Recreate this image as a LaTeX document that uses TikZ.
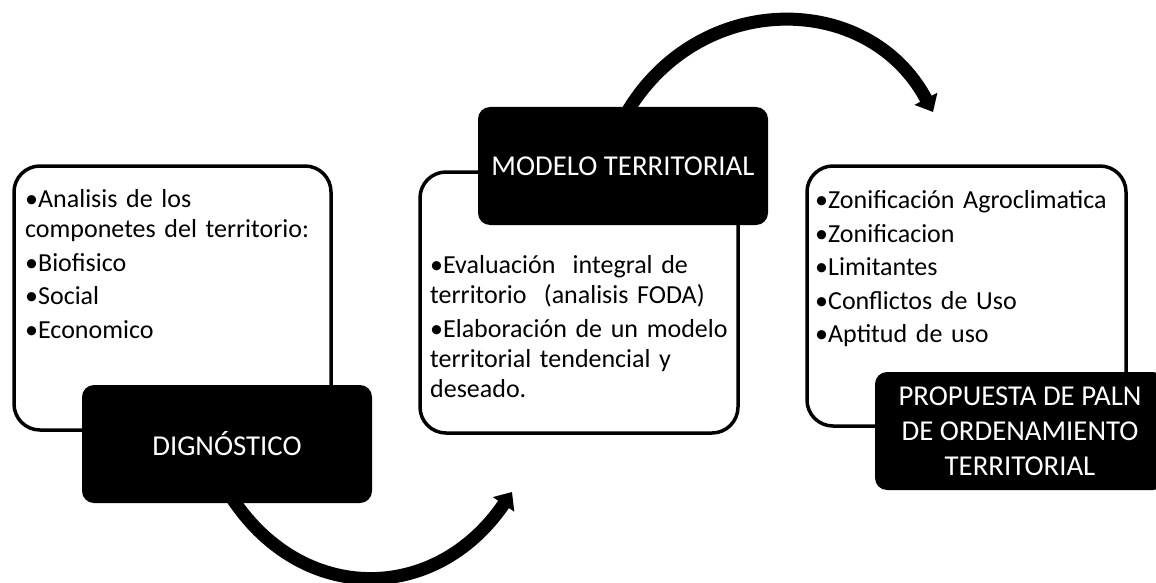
\documentclass[tikz,border=0pt]{standalone}
\usepackage{fontspec}
\setmainfont{Carlito}
\usetikzlibrary{arrows.meta}
\newlength\bulw
\newcommand\bodyfont{\fontsize{26}{30}\selectfont}
\newcommand\headfont{\fontsize{28.8}{35}\selectfont}
\newcommand\itm{\par\hangindent=\bulw\hangafter=1\noindent\makebox[\bulw][l]{•}}
\newcommand\fstrut{\rule{0pt}{24pt}}
\tikzset{
  wbox/.style={draw=black, line width=3.5pt, rounded corners=26pt, fill=white, inner sep=0pt},
  bbox/.style={fill=black, rounded corners=12pt, inner sep=0pt, minimum width=290pt,
    minimum height=118pt, text=white, align=center, font=\headfont},
  txt/.style={anchor=north west, inner sep=0pt, text width=330pt, font=\bodyfont,
    execute at begin node={\raggedright\setlength\parskip{3.5pt}\settowidth\bulw{\bodyfont •}}},
  arr/.style={draw=black, line width=13pt, -{Triangle[width=25pt,length=15pt]}},
}
\begin{document}
\begin{tikzpicture}[x=1pt,y=-1pt]
\useasboundingbox (0,0) rectangle (1156,583);
\clip (0,0) rectangle (1156,583);
% white boxes
\node[wbox, minimum width=317pt, minimum height=264pt] (b1) at (172.5,298) {};
\node[wbox, minimum width=318pt, minimum height=261pt] (b2) at (579,302.5) {};
\node[wbox, minimum width=319pt, minimum height=260pt] (b3) at (966.5,296) {};
% arrow end points
\coordinate (a1s) at (230,495);
\coordinate (a1e) at (512,492);
\coordinate (a2s) at (626,114);
\coordinate (a2e) at (933,112);
\draw[arr] (a1s) .. controls (300,605) and (435,605) .. (a1e);
\draw[arr] (a2s) .. controls (698,-10) and (868,-10) .. (a2e);
% black boxes
\node[bbox] (dig) at (227,444) {DIGNÓSTICO};
\node[bbox] (mod) at (623,166) {MODELO TERRITORIAL};
\node[bbox] (prop) at (1020,431) {PROPUESTA DE PALN\\DE ORDENAMIENTO\\TERRITORIAL};
% texts
\node[txt] (t1) at (25,174) {\itm\fstrut Analisis de los\\componetes del territorio:\itm Biofisico\itm Social\itm Economico};
\node[txt] (t2) at (430,240) {\itm\fstrut Evaluación\ \ integral de\\territorio\ \ (analisis FODA)\itm Elaboración de un modelo\\territorial tendencial y\\deseado.};
\node[txt] (t3) at (815,175) {\itm\fstrut Zonificación Agroclimatica\itm Zonificacion\itm Limitantes\itm Conflictos de Uso\itm Aptitud de uso};
\end{tikzpicture}
\end{document}
